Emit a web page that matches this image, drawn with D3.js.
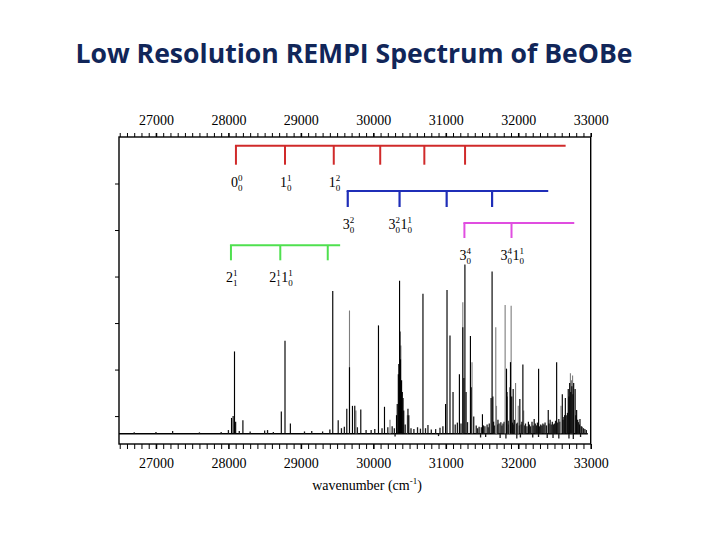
<!DOCTYPE html>
<html>
<head>
<meta charset="utf-8">
<script src="https://cdn.jsdelivr.net/npm/d3@7"></script>
<style>
  body { margin: 0; background: #fff; }
  svg { display: block; }
  .tick text { font-family: "Liberation Serif", "DejaVu Serif", serif; font-size: 14px; fill: #000; }
  .domain { display: none; }
</style>
</head>
<body>
<div id="chart"></div>
<script>
// ---- data (wavenumber in cm-1, intensity in arbitrary units) ----
const xDomain = [26490, 33000];
const yDomain = [-6, 60];
const baseline = -3.8;
const thousands = [27000, 28000, 29000, 30000, 31000, 32000, 33000];
const yTicks = [0, 10, 20, 30, 40, 50];

// strong lines: [wavenumber, height above baseline]
const mainPeaks = [
  [28043, 3.4], [28065, 3.8], [28084, 17.7], [28100, 2.6], [28200, 2.9],
  [28730, 4.8], [28781, 20.0], [28855, 2.2],
  [29440, 30.7], [29515, 2.9], [29634, 5.4], [29671, 14.3], [29712, 6.0], [29744, 6.0], [29827, 5.2],
  [30071, 23.3], [30154, 5.8], [30320, 4.0], [30330, 6.4], [30345, 12.8], [30352, 15.0], [30362, 32.9],
  [30368, 22.0], [30375, 16.0], [30390, 11.5], [30400, 9.0], [30410, 7.7], [30420, 5.0], [30478, 5.4],
  [30490, 4.0], [30685, 30.1], [30754, 1.9],
  [30997, 6.4], [31017, 30.9], [31058, 21.1], [31100, 9.0], [31188, 12.8], [31235, 22.9], [31250, 12.0],
  [31264, 36.4], [31280, 9.0], [31340, 21.0], [31350, 10.0], [31386, 3.7], [31506, 4.2], [31625, 7.7],
  [31639, 34.9], [31650, 8.0], [31838, 14.0], [31845, 9.0], [31893, 15.4], [31910, 8.0], [31930, 9.6],
  [32022, 7.5], [32064, 14.9], [32140, 2.6], [32220, 3.2], [32281, 14.0], [32340, 2.2],
  [32414, 5.1], [32530, 15.4], [32608, 8.5], [32650, 7.7], [32690, 9.6], [32700, 8.0], [32710, 10.9],
  [32725, 9.0], [32740, 10.2], [32755, 8.5], [32765, 10.9], [32785, 9.6], [32806, 5.1], [32852, 3.2]
];
// weaker, partly resolved lines (drawn lighter)
const faintPeaks = [
  [29671, 26.5], [29760, 5.0], [30230, 3.0], [30380, 19.0], [30470, 4.0], [31235, 28.3], [31362, 15.4],
  [31690, 22.9], [31700, 6.0], [31819, 27.7], [31850, 8.0], [31880, 10.0], [31902, 27.5], [31963, 10.9],
  [32000, 6.0], [32075, 5.0], [32590, 6.0], [32720, 13.0], [32750, 12.5], [32735, 11.5]
];
// small baseline fluctuations
const noise = [
  [26700, 0.3], [27000, 0.4], [27230, 0.6], [27600, 0.3], [27900, 0.4], [28000, 0.8], [28150, 0.6],
  [28300, 0.5], [28500, 0.7], [28540, 0.8], [28620, 0.4], [29050, 0.5], [29150, 0.6], [29300, 0.5],
  [29400, 0.9], [29560, 1.2], [29600, 1.5], [29780, 1.4], [29900, 0.8], [29970, 0.8], [30020, 1.0],
  [30120, 1.2], [30200, 1.4], [30260, 1.6], [30290, 1.2], [30440, 2.0], [30520, 1.2], [30560, 1.0],
  [30610, 1.4], [30650, 1.1], [30720, 1.2], [30800, 0.9], [30860, 1.0], [30920, 1.3], [30960, 1.6],
  [31130, 2.0], [31160, 2.4], [31210, 2.2], [31300, 2.5], [31420, 1.8], [31440, 1.2], [31460, 1.5],
  [31490, 1.4], [31520, 1.8], [31540, 1.6], [31570, 2.0], [31585, 1.4], [31600, 2.2], [31660, 2.6],
  [31675, 1.8], [31710, 2.0], [31720, 3.0], [31735, 2.2], [31760, 2.5], [31775, 1.8], [31790, 2.2],
  [31805, 2.6], [31860, 2.0], [31870, 2.8], [31920, 2.4], [31940, 2.0], [31950, 3.0], [31975, 2.2],
  [31990, 2.4], [32010, 1.8], [32040, 2.0], [32050, 2.6], [32085, 1.8], [32100, 2.2], [32120, 1.6],
  [32155, 2.0], [32170, 1.6], [32190, 2.6], [32205, 1.8], [32235, 2.2], [32250, 1.8], [32265, 2.4],
  [32295, 1.6], [32310, 2.0], [32325, 1.8], [32355, 2.0], [32370, 2.4], [32390, 1.8], [32425, 2.2],
  [32440, 3.0], [32455, 2.0], [32470, 2.6], [32485, 2.0], [32500, 2.2], [32515, 2.8], [32545, 2.4],
  [32560, 3.2], [32575, 2.6], [32620, 3.0], [32630, 3.6], [32640, 4.0], [32670, 4.0], [32680, 4.5],
  [32795, 4.0], [32820, 3.0], [32830, 2.5], [32845, 2.0], [32870, 1.6], [32880, 1.5], [32900, 1.2],
  [32920, 1.0], [32940, 0.8],
  [30300, -0.6], [30900, -0.5], [31480, -0.8], [31550, -0.7], [31750, -0.9], [31830, -1.0],
  [31980, -1.0], [32030, -0.8], [32200, -0.8], [32280, -0.7], [32400, -0.9], [32480, -0.9],
  [32560, -1.0], [32700, -1.0], [32760, -1.1], [32860, -0.7]
];

// assignment combs: tick wavenumbers, end of the bar, labels [base, sup, sub]
const redTicks = [28104, 28781, 29454, 30095, 30704, 31266];
const redEnd = 32654;
const redLabels = [[28104, [["0", "0", "0"]]], [28781, [["1", "1", "0"]]], [29454, [["1", "2", "0"]]]];

const blueTicks = [29647, 30362, 31012, 31639];
const blueEnd = 32414;
const blueLabels = [[29647, [["3", "2", "0"]]], [30362, [["3", "2", "0"], ["1", "1", "0"]]]];

const magentaTicks = [31257, 31907];
const magentaEnd = 32773;
const magentaLabels = [[31257, [["3", "4", "0"]]], [31907, [["3", "4", "0"], ["1", "1", "0"]]]];

const greenTicks = [28035, 28716, 29371];
const greenEnd = 29542;
const greenLabels = [[28035, [["2", "1", "1"]]], [28716, [["2", "1", "1"], ["1", "1", "0"]]]];

// ---- layout ----
const width = 720, height = 540;
const plot = { left: 119, right: 590.7, top: 137, bottom: 444 };
const serif = '"Liberation Serif", "DejaVu Serif", serif';

const svg = d3.select("#chart").append("svg")
  .attr("width", width)
  .attr("height", height);

svg.append("text")
  .attr("x", 354)
  .attr("y", 63)
  .attr("text-anchor", "middle")
  .style("font-family", '"Open Sans", sans-serif')
  .style("font-weight", 700)
  .style("font-size", "26.6px")
  .style("fill", "#112659")
  .text("Low Resolution REMPI Spectrum of BeOBe");

const xScale = d3.scaleLinear().domain(xDomain).range([plot.left, plot.right]);
const yScale = d3.scaleLinear().domain(yDomain).range([plot.bottom, plot.top]);

const minorTicks = d3.range(26500, 33001, 100);
const fmt = d => thousands.includes(d) ? d3.format("d")(d) : "";

const xAxisBottom = d3.axisBottom(xScale)
  .tickValues(minorTicks)
  .tickFormat(fmt)
  .tickSize(5)
  .tickPadding(6);

const xAxisTop = d3.axisTop(xScale)
  .tickValues(minorTicks)
  .tickFormat(fmt)
  .tickSize(4)
  .tickPadding(8);

const yAxis = d3.axisLeft(yScale)
  .tickValues(yTicks)
  .tickFormat("")
  .tickSize(4);

const bottomG = svg.append("g")
  .attr("transform", `translate(0, ${plot.bottom})`)
  .call(xAxisBottom);
const topG = svg.append("g")
  .attr("transform", `translate(0, ${plot.top})`)
  .call(xAxisTop);
svg.append("g")
  .attr("transform", `translate(${plot.left}, 0)`)
  .call(yAxis);

// longer marks at the thousands
[bottomG, topG].forEach(g => {
  g.selectAll(".tick line")
    .attr("stroke", "#000")
    .attr("stroke-width", 1)
    .filter(d => thousands.includes(d))
    .attr("stroke-width", 1.6);
});
bottomG.selectAll(".tick text").attr("dy", "0.9em");

svg.append("rect")
  .attr("x", plot.left)
  .attr("y", plot.top)
  .attr("width", plot.right - plot.left)
  .attr("height", plot.bottom - plot.top)
  .attr("fill", "none")
  .attr("stroke", "#000")
  .attr("stroke-width", 1.4);

// axis title with superscript
const xt = svg.append("text")
  .attr("x", 367)
  .attr("y", 490)
  .attr("text-anchor", "middle")
  .style("font-family", serif)
  .style("font-size", "14px");
xt.append("tspan").text("wavenumber (cm");
xt.append("tspan").attr("dy", -6).style("font-size", "9px").text("-1");
xt.append("tspan").attr("dy", 6).text(")");

// ---- spectrum ----
const spec = svg.append("g");

spec.append("line")
  .attr("x1", xScale(xDomain[0]))
  .attr("x2", xScale(32960))
  .attr("y1", yScale(baseline))
  .attr("y2", yScale(baseline))
  .attr("stroke", "#000")
  .attr("stroke-width", 1.4);

function sticks(data, color, w) {
  spec.selectAll(null).data(data)
    .enter().append("line")
      .attr("x1", d => xScale(d[0]))
      .attr("x2", d => xScale(d[0]))
      .attr("y1", yScale(baseline))
      .attr("y2", d => yScale(baseline + d[1]))
      .attr("stroke", color)
      .attr("stroke-width", w);
}
sticks(noise, "#1a1a1a", 1.3);
sticks(faintPeaks, "#7d7d7d", 1.1);
sticks(mainPeaks, "#000", 1.15);

// ---- assignment combs ----
function scriptLabel(g, x, y, parts) {
  const lab = g.append("g");
  let cx = 0;
  parts.forEach(p => {
    const b = lab.append("text")
      .attr("x", cx).attr("y", 0)
      .style("font-family", serif).style("font-size", "14px")
      .text(p[0]);
    cx += b.node().getComputedTextLength();
    const sup = lab.append("text")
      .attr("x", cx).attr("y", -6)
      .style("font-family", serif).style("font-size", "9px")
      .text(p[1]);
    const sub = lab.append("text")
      .attr("x", cx).attr("y", 4)
      .style("font-family", serif).style("font-size", "9px")
      .text(p[2]);
    cx += Math.max(sup.node().getComputedTextLength(), sub.node().getComputedTextLength()) + 0.5;
  });
  lab.attr("transform", `translate(${x - cx / 2 + 1}, ${y})`);
}

function comb(ticks, end, labels, color, level, drop, sw) {
  const g = svg.append("g");
  g.append("line")
    .attr("x1", xScale(ticks[0]) - sw / 2)
    .attr("x2", xScale(end))
    .attr("y1", level).attr("y2", level)
    .attr("stroke", color).attr("stroke-width", sw);
  g.selectAll(null).data(ticks)
    .enter().append("line")
      .attr("x1", d => xScale(d)).attr("x2", d => xScale(d))
      .attr("y1", level).attr("y2", level + drop)
      .attr("stroke", color).attr("stroke-width", sw);
  labels.forEach(l => scriptLabel(g, xScale(l[0]), level + drop + 22, l[1]));
}

comb(redTicks, redEnd, redLabels, "#d02a2a", 145.7, 19, 2);
comb(blueTicks, blueEnd, blueLabels, "#1f2eb8", 191, 16, 2.2);
comb(magentaTicks, magentaEnd, magentaLabels, "#e04ee0", 223, 15, 2);
comb(greenTicks, greenEnd, greenLabels, "#4fe04f", 245.3, 15, 2);
</script>
</body>
</html>
